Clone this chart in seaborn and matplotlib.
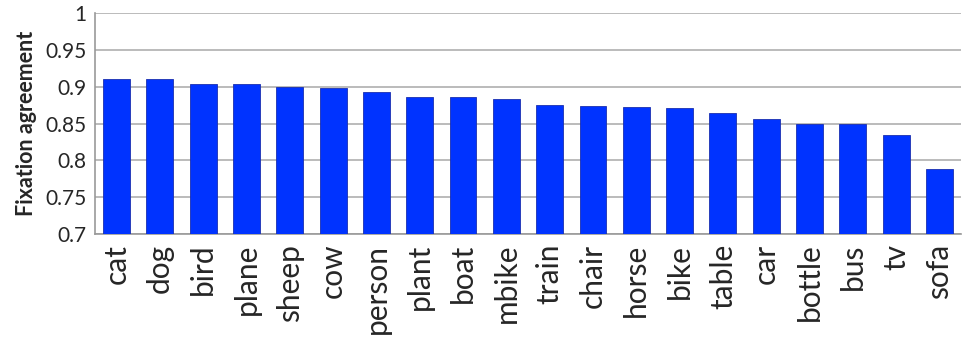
import seaborn as sns
import matplotlib.pyplot as plt
import pandas as pd

# categories and their fixation agreement
categories = ['cat', 'dog', 'bird', 'plane', 'sheep', 'cow', 'person', 'plant', 'boat', 'mbike',
              'train', 'chair', 'horse', 'bike', 'table', 'car', 'bottle', 'bus', 'tv', 'sofa']
agreement = [0.911, 0.911, 0.9035, 0.9035, 0.900, 0.898, 0.893, 0.886, 0.886, 0.883,
             0.8755, 0.8735, 0.873, 0.871, 0.864, 0.8565, 0.8495, 0.8495, 0.835, 0.789]
yticks = [0.7, 0.75, 0.8, 0.85, 0.9, 0.95, 1]
ytick_labels = ['0.7', '0.75', '0.8', '0.85', '0.9', '0.95', '1']

df = pd.DataFrame({'category': categories, 'agreement': agreement})

sns.set_style('white')
plt.rcParams['font.family'] = ['Lato', 'DejaVu Sans']

fig = plt.figure(figsize=(9.64, 3.44), dpi=100)
ax = fig.add_axes([0.0985, 0.320, 0.8985, 0.641])

sns.barplot(x='category', y='agreement', data=df, color='#0033ff', saturation=1,
            width=0.62, edgecolor='#1a2fb0', linewidth=0.6, ax=ax, zorder=3)

ax.set_ylim(0.7, 1)
ax.set_xlim(-0.5, len(categories) - 0.5)
ax.set_yticks(yticks)
ax.set_yticklabels(ytick_labels, fontsize=15)
ax.yaxis.grid(True, color='#bbbbbb', linewidth=1.4, zorder=0)
ax.set_axisbelow(True)
ax.tick_params(axis='both', length=0)
ax.tick_params(axis='y', pad=6)
ax.tick_params(axis='x', labelsize=21.5, rotation=90, pad=7)

for side in ['top', 'right']:
    ax.spines[side].set_visible(False)
ax.spines['left'].set_color('#999999')
ax.spines['bottom'].set_color('#999999')
ax.spines['left'].set_linewidth(1.2)
ax.spines['bottom'].set_linewidth(1.2)

ax.set_xlabel('')
ax.set_ylabel('Fixation agreement', fontsize=15.5, fontweight='bold', labelpad=6)

fig.savefig('out.png', dpi=100)
